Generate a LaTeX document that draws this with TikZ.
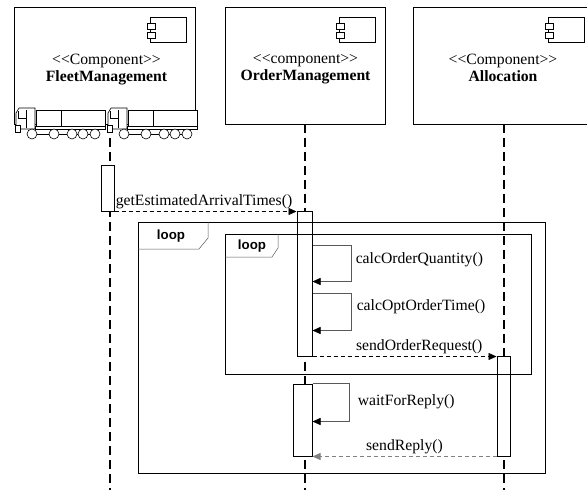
\documentclass[tikz,border=0pt]{standalone}
\usepackage{fontspec}
\setmainfont{Liberation Serif}[Ligatures=TeXOff]
\newfontfamily\loopfont{Liberation Sans}
\usetikzlibrary{arrows.meta,positioning}

\tikzset{
  head/.style={draw,line width=1pt,fill=white,inner sep=0pt,anchor=north west},
  headtext/.style={align=center,inner sep=0pt,font=\fontsize{15.7}{17}\selectfont},
  act/.style={draw,line width=1pt,fill=white,inner sep=0pt},
  lifeline/.style={line width=2pt,dash pattern=on 9pt off 5pt},
  call/.style={-{Triangle[length=8pt,width=7pt]},line width=0.6pt,dash pattern=on 4pt off 3pt},
  reply/.style={call,gray},
  self/.style={-{Triangle[length=8pt,width=7pt,black]},line width=0.5pt,gray!70!black},
  msg/.style={inner sep=1pt,text=black,font=\fontsize{15.7}{17}\selectfont},
  frame/.style={draw,line width=1pt,inner sep=0pt,anchor=north west},
  tab/.style={line width=0.5pt,gray!70!black},
  looptext/.style={inner sep=0pt,font=\loopfont\bfseries\fontsize{13.3}{15}\selectfont},
  compicon/.pic={
    \draw[line width=0.8pt,fill=white] (-36,0) rectangle (0,25);
    \draw[line width=0.8pt,fill=white] (-39,6) rectangle (-31,12);
    \draw[line width=0.8pt,fill=white] (-39,15) rectangle (-31,21);
  },
  truck/.pic={
    % cab
    \draw[line width=0.6pt,fill=white] (1,-5) -- (1,-21) -- (4,-26) -- (20,-26) -- (20,-5) -- cycle;
    \draw[line width=0.5pt] (3,-23) -- (3,-16) -- (11,-16) -- (11,-24);
    \draw[line width=0.5pt] (11,-16) -- (11,-6);
    \draw[line width=0.5pt,fill=white] (0,-9) rectangle (5,-2);
    % trailer
    \draw[line width=0.6pt,fill=white] (20,-8) rectangle (90,-5);
    \draw[line width=0.6pt,fill=white] (21,-24) rectangle (90,-8);
    \draw[line width=0.5pt] (46,-24) -- (46,-8);
    % wheels
    \draw[line width=0.5pt] (12,0) -- (85,0);
    \foreach \wx in {17,39,57,68,80}
      \draw[line width=0.6pt,fill=white] (\wx,0) circle (5);
  }
}

\begin{document}
\begin{tikzpicture}[x=1pt,y=-1pt,line join=miter]
\clip (0,0) rectangle (587,490);
\fill[white] (0,0) rectangle (587,490);
\coordinate (bottom) at (0,490);

% component heads
\node[head,minimum width=181pt,minimum height=117pt] (fleet) at (14,7) {};
\node[head,minimum width=160pt,minimum height=117pt] (order) at (225,7) {};
\node[head,minimum width=181pt,minimum height=117pt] (alloc) at (413,7) {};
\node[headtext,below=47pt of fleet.north,xshift=1.5pt] (fleet-txt) {<<Component>>\\\textbf{FleetManagement}};
\node[headtext,below=47pt of order.north] (order-txt) {<<component>>\\\textbf{OrderManagement}};
\node[headtext,below=47pt of alloc.north,xshift=-1pt] (alloc-txt) {<<Component>>\\\textbf{Allocation}};
\pic at ([xshift=-10pt,yshift=-10pt]fleet.north east) {compicon};
\pic at ([xshift=-11pt,yshift=-10pt]order.north east) {compicon};
\pic at ([xshift=-11pt,yshift=-10pt]alloc.north east) {compicon};

% lifelines
\coordinate (fleet-ll) at (110,110);
\coordinate (order-ll) at (305,124);
\coordinate (alloc-ll) at (503.5,124);
\draw[lifeline] (fleet-ll) -- (fleet-ll |- bottom);
\draw[lifeline] (order-ll) -- (order-ll |- bottom);
\draw[lifeline] (alloc-ll) -- (alloc-ll |- bottom);

% trucks in front of the fleet head
\pic at (15,134) {truck};
\pic at (107,134) {truck};

% activations
\node[act,minimum width=13pt,minimum height=46pt] (fa) at (107.5,188) {};
\node[act,minimum width=15pt,minimum height=145pt] (oa1) at (304.5,283.5) {};
\node[act,minimum width=13pt,minimum height=100pt] (aa) at (503.5,406) {};
\node[act,minimum width=19pt,minimum height=72pt] (oa2) at (302.5,420) {};

% loop frames
\node[frame,minimum width=407pt,minimum height=251pt] (outer) at (138,222) {};
\draw[tab] ([yshift=-27pt]outer.north west) -- ++(61,0) -- ++(9,-11) -- ++(0,-16);
\node[looptext] (outer-lbl) at (171,236) {loop};
\node[frame,minimum width=306pt,minimum height=140pt] (inner) at (225,234) {};
\draw[tab] ([yshift=-23pt]inner.north west) -- ++(47,0) -- ++(6,-9) -- ++(0,-14);
\node[looptext] (inner-lbl) at (252,246) {loop};

% messages
\draw[call] (fa.south east) -- (fa.south east -| oa1.west)
  node[msg,pos=0,above right,yshift=1pt] {getEstimatedArrivalTimes()};
\draw[self] ([yshift=-35pt]oa1.north east) -- ++(39,0) -- ++(0,36)
  node[msg,pos=0.4,right=3pt] {calcOrderQuantity()} -- ++(-39,0);
\draw[self] ([yshift=-83pt]oa1.north east) -- ++(39,0) -- ++(0,37)
  node[msg,pos=0.35,right=4pt] {calcOptOrderTime()} -- ++(-39,0);
\draw[call] (oa1.south east) -- (oa1.south east -| aa.west)
  node[msg,pos=0.58,above,yshift=1pt] {sendOrderRequest()};
\draw[self] (oa2.north east) -- ++(37,0) -- ++(0,38)
  node[msg,pos=0.47,right=7pt] {waitForReply()} -- ++(-37,0);
\draw[reply] (aa.south west) -- (aa.south west -| oa2.east)
  node[msg,midway,above,yshift=1pt] {sendReply()};
\end{tikzpicture}
\end{document}
